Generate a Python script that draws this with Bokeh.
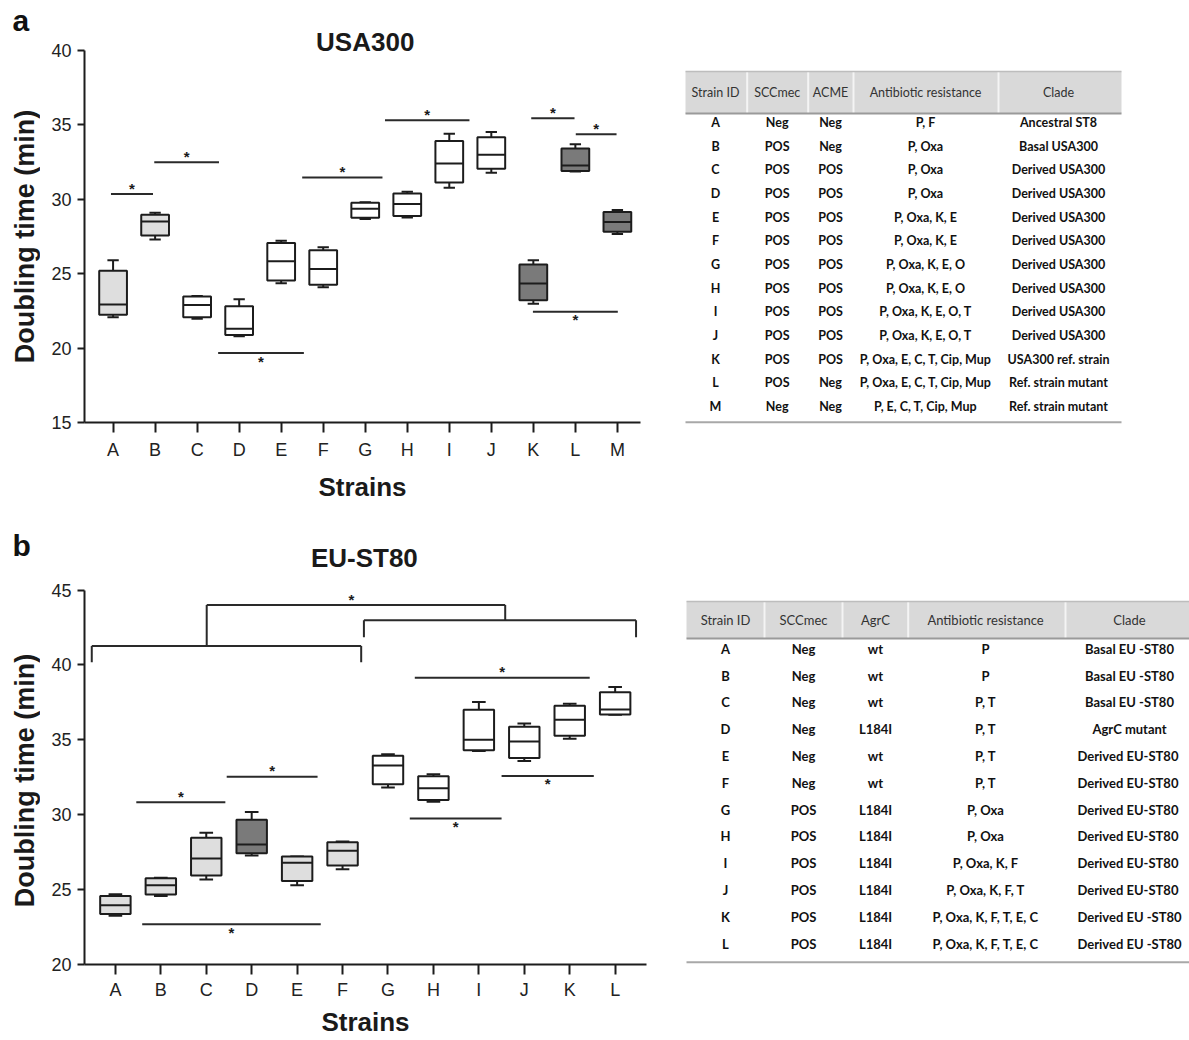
import math
from bokeh.plotting import figure
from bokeh.layouts import row, column
from bokeh.models import Range1d, FixedTicker
from bokeh.embed import file_html
from bokeh.resources import INLINE
from bokeh.core.properties import value

# ---------------- Panel a : USA300 ----------------
strains_a = ["A", "B", "C", "D", "E", "F", "G", "H", "I", "J", "K", "L", "M"]
a_min = [22.08, 27.29, 21.97, 20.79, 24.36, 24.09, 28.67, 28.78, 30.77, 31.78, 22.98, 31.87, 27.67]
a_q1 = [22.24, 27.56, 22.08, 20.88, 24.54, 24.25, 28.76, 28.87, 31.13, 32.05, 23.22, 31.91, 27.82]
a_med = [22.93, 28.50, 22.90, 21.30, 25.84, 25.32, 29.37, 29.68, 32.40, 33.00, 24.34, 32.27, 28.47]
a_q3 = [25.20, 28.96, 23.47, 22.82, 27.06, 26.57, 29.77, 30.39, 33.92, 34.17, 25.61, 33.41, 29.14]
a_max = [25.90, 29.10, 23.50, 23.29, 27.22, 26.77, 29.81, 30.50, 34.41, 34.53, 25.90, 33.70, 29.28]
a_group = ["light", "light", "white", "white", "white", "white", "white", "white", "white", "white",
           "dark", "dark", "dark"]
a_yticks = [15, 20, 25, 30, 35, 40]

# significance bars (from-strain index, to-strain index, level, star side)
sig_a_x0 = [-0.05, 0.98, 2.50, 4.50, 6.47, 9.95, 11.01, 9.99]
sig_a_x1 = [0.95, 2.52, 4.54, 6.41, 8.48, 10.98, 11.98, 12.01]
sig_a_y = [30.35, 32.49, 19.67, 31.47, 35.31, 35.44, 34.37, 22.44]
sig_a_side = ["above", "above", "below", "above", "above", "above", "above", "below"]

# ---------------- Panel b : EU-ST80 ----------------
strains_b = ["A", "B", "C", "D", "E", "F", "G", "H", "I", "J", "K", "L"]
b_min = [23.26, 24.58, 25.67, 27.28, 25.29, 26.36, 31.81, 30.87, 34.26, 33.59, 35.07, 36.67]
b_q1 = [23.37, 24.67, 25.94, 27.43, 25.58, 26.61, 32.03, 30.98, 34.31, 33.79, 35.27, 36.70]
b_med = [23.95, 25.29, 27.08, 28.01, 26.79, 27.59, 33.28, 31.76, 35.00, 34.89, 36.34, 37.03]
b_q3 = [24.58, 25.76, 28.46, 29.67, 27.21, 28.17, 33.93, 32.57, 37.01, 35.87, 37.28, 38.17]
b_max = [24.69, 25.80, 28.79, 30.18, 27.21, 28.21, 34.04, 32.70, 37.52, 36.09, 37.41, 38.53]
b_group = ["light", "light", "light", "dark", "light", "light", "white", "white", "white", "white",
           "white", "white"]
b_yticks = [20, 25, 30, 35, 40, 45]

sig_b_x0 = [0.46, 2.45, 0.59, 6.59, 8.50, 6.48]
sig_b_x1 = [2.42, 4.45, 4.52, 10.44, 10.53, 8.50]
sig_b_y = [30.83, 32.54, 22.68, 39.15, 32.59, 29.75]
sig_b_side = ["above", "above", "below", "above", "below", "below"]

# group brackets: (left x, right x, bar level, leg end left, leg end right)
br_x0 = [-0.52, 5.47, 2.01]
br_x1 = [5.41, 11.46, 8.58]
br_y = [41.27, 42.99, 44.00]
br_leg0 = [40.18, 41.85, 41.27]
br_leg1 = [40.18, 41.85, 42.99]
br_star = [False, False, True]

# ---------------- Tables ----------------
tab_a_header = ["Strain ID", "SCCmec", "ACME", "Antibiotic resistance", "Clade"]
tab_a_scc = ["Neg", "POS", "POS", "POS", "POS", "POS", "POS", "POS", "POS", "POS", "POS", "POS", "Neg"]
tab_a_acme = ["Neg", "Neg", "POS", "POS", "POS", "POS", "POS", "POS", "POS", "POS", "POS", "Neg", "Neg"]
tab_a_abx = ["P, F", "P, Oxa", "P, Oxa", "P, Oxa", "P, Oxa, K, E", "P, Oxa, K, E", "P, Oxa, K, E, O",
             "P, Oxa, K, E, O", "P, Oxa, K, E, O, T", "P, Oxa, K, E, O, T", "P, Oxa, E, C, T, Cip, Mup",
             "P, Oxa, E, C, T, Cip, Mup", "P, E, C, T, Cip, Mup"]
tab_a_clade = ["Ancestral ST8", "Basal USA300", "Derived USA300", "Derived USA300", "Derived USA300",
               "Derived USA300", "Derived USA300", "Derived USA300", "Derived USA300", "Derived USA300",
               "USA300 ref. strain", "Ref. strain mutant", "Ref. strain mutant"]

tab_b_header = ["Strain ID", "SCCmec", "AgrC", "Antibiotic resistance", "Clade"]
tab_b_scc = ["Neg", "Neg", "Neg", "Neg", "Neg", "Neg", "POS", "POS", "POS", "POS", "POS", "POS"]
tab_b_agrc = ["wt", "wt", "wt", "L184I", "wt", "wt", "L184I", "L184I", "L184I", "L184I", "L184I", "L184I"]
tab_b_abx = ["P", "P", "P, T", "P, T", "P, T", "P, T", "P, Oxa", "P, Oxa", "P, Oxa, K, F", "P, Oxa, K, F, T",
             "P, Oxa, K, F, T, E, C", "P, Oxa, K, F, T, E, C"]
tab_b_clade = ["Basal EU -ST80", "Basal EU -ST80", "Basal EU -ST80", "AgrC mutant", "Derived  EU-ST80",
               "Derived  EU-ST80", "Derived  EU-ST80", "Derived  EU-ST80", "Derived  EU-ST80",
               "Derived  EU-ST80", "Derived EU -ST80", "Derived EU -ST80"]

FILLS = {"light": "#dedede", "white": "#ffffff", "dark": "#7a7a7a"}
INK = "#1c1c1c"
FONT = "Liberation Sans"


def side_fig(letter, letter_y, ylabel, ylabel_y):
    """Narrow strip left of a panel holding the panel letter and the y-axis title."""
    s = figure(width=40, height=520, x_range=Range1d(0, 40), y_range=Range1d(0, 520),
               output_backend="svg", toolbar_location=None, x_axis_type=None, y_axis_type=None,
               min_border=0, frame_align=False)
    s.grid.visible = False
    s.outline_line_color = None
    s.text(x=[12], y=[520 - letter_y], text=[letter], text_align="left", text_baseline="middle",
           text_font=value(FONT), text_font_style="bold", text_font_size="30px", text_color="#111111")
    s.text(x=[24], y=[520 - ylabel_y], text=[ylabel], angle=math.pi / 2, text_align="center",
           text_baseline="middle", text_font=value(FONT), text_font_style="bold",
           text_font_size="27px", text_color="#1a1a1a")
    return s


def box_panel(cats, mins, q1, med, q3, maxs, groups, yticks, xr, yr, ybounds, border_bottom,
              border_right, box_w, cap_w, lab_standoff, axlab_standoff):
    p = figure(width=620, height=520, x_range=Range1d(*xr), y_range=Range1d(*yr),
               output_backend="svg", toolbar_location=None,
               min_border_left=44, min_border_right=border_right,
               min_border_top=0, min_border_bottom=border_bottom, frame_align=False)
    p.grid.visible = False
    p.outline_line_color = None
    idx = list(range(len(cats)))
    fills = [FILLS[g] for g in groups]
    # whiskers
    p.segment(x0=idx, y0=q3, x1=idx, y1=maxs, line_color=INK, line_width=2)
    p.segment(x0=idx, y0=q1, x1=idx, y1=mins, line_color=INK, line_width=2)
    p.segment(x0=[i - cap_w / 2 for i in idx], y0=maxs, x1=[i + cap_w / 2 for i in idx], y1=maxs,
              line_color=INK, line_width=2)
    p.segment(x0=[i - cap_w / 2 for i in idx], y0=mins, x1=[i + cap_w / 2 for i in idx], y1=mins,
              line_color=INK, line_width=2)
    # boxes
    p.vbar(x=idx, width=box_w, bottom=q1, top=q3, fill_color=fills, line_color=INK, line_width=2)
    p.segment(x0=[i - box_w / 2 for i in idx], y0=med, x1=[i + box_w / 2 for i in idx], y1=med,
              line_color=INK, line_width=2)

    for ax in (p.xaxis[0], p.yaxis[0]):
        ax.axis_line_width = 2
        ax.axis_line_color = INK
        ax.major_tick_line_width = 2
        ax.major_tick_line_color = INK
        ax.minor_tick_line_color = None
        ax.major_tick_in = 0
        ax.major_label_text_font = FONT
        ax.major_label_text_font_size = "18px"
        ax.major_label_text_color = "#222222"
        ax.axis_label_text_font = FONT
        ax.axis_label_text_font_style = "bold"
        ax.axis_label_text_font_size = "26px"
        ax.axis_label_text_color = "#1a1a1a"
    p.xaxis.ticker = FixedTicker(ticks=idx)
    p.xaxis.major_label_overrides = {i: c for i, c in enumerate(cats)}
    p.xaxis.major_tick_out = 10
    p.xaxis.major_label_standoff = lab_standoff
    p.xaxis.axis_label = "Strains"
    p.xaxis.axis_label_standoff = axlab_standoff
    p.yaxis.ticker = FixedTicker(ticks=yticks)
    p.yaxis.bounds = ybounds
    p.yaxis.major_tick_out = 7
    p.yaxis.major_label_standoff = 6
    return p


STAR = dict(text_align="center", text_baseline="middle", text_font=value(FONT), text_font_style="bold",
            text_font_size="15px", text_color="#1a1a1a")


def add_sig(p, x0, x1, y, side):
    p.segment(x0=x0, y0=y, x1=x1, y1=y, line_color="#2a2a2a", line_width=2)
    up = [i for i, s in enumerate(side) if s == "above"]
    dn = [i for i, s in enumerate(side) if s == "below"]
    for sel, off in ((up, -6), (dn, 8)):
        p.text(x=[(x0[i] + x1[i]) / 2 for i in sel], y=[y[i] for i in sel], text=["*"] * len(sel),
               y_offset=off, **STAR)


def add_title(p, x, y, text):
    p.text(x=[x], y=[y], text=[text], text_align="center", text_baseline="middle",
           text_font=value(FONT), text_font_style="bold", text_font_size="26px", text_color="#1a1a1a")


# panel a
sa = side_fig("a", 20, "Doubling time (min)", 236)
pa = box_panel(strains_a, a_min, a_q1, a_med, a_q3, a_max, a_group, a_yticks,
               (-0.68, 12.55), (15, 43.36), (15, 40), 98, 20, 0.66, 0.27, 7, 9)
add_sig(pa, sig_a_x0, sig_a_x1, sig_a_y, sig_a_side)
add_title(pa, 6.0, 40.6, "USA300")

# panel b
sb = side_fig("b", 25, "Doubling time (min)", 260)
pb = box_panel(strains_b, b_min, b_q1, b_med, b_q3, b_max, b_group, b_yticks,
               (-0.68, 11.69), (20, 49.646), (20, 45), 76, 14, 0.67, 0.30, 5, 4)
add_sig(pb, sig_b_x0, sig_b_x1, sig_b_y, sig_b_side)
pb.segment(x0=br_x0, y0=br_y, x1=br_x1, y1=br_y, line_color="#2a2a2a", line_width=2)
pb.segment(x0=br_x0, y0=br_y, x1=br_x0, y1=br_leg0, line_color="#2a2a2a", line_width=2)
pb.segment(x0=br_x1, y0=br_y, x1=br_x1, y1=br_leg1, line_color="#2a2a2a", line_width=2)
sel = [i for i, s in enumerate(br_star) if s]
pb.text(x=[(br_x0[i] + br_x1[i]) / 2 - 0.1 for i in sel], y=[br_y[i] for i in sel], text=["*"] * len(sel),
        y_offset=-6, **STAR)
add_title(pb, 5.48, 47.11, "EU-ST80")


def table_fig(header, cols, ids, left, right, head_top, head_bot, col_x, seps, row0, row_dy, bottom_line,
              font_size):
    t = figure(width=529, height=520, x_range=Range1d(0, 529), y_range=Range1d(520, 0),
               output_backend="svg", toolbar_location=None, x_axis_type=None, y_axis_type=None,
               min_border=0, frame_align=False)
    t.grid.visible = False
    t.outline_line_color = None
    t.quad(left=[left], right=[right], top=[head_top], bottom=[head_bot], fill_color="#d9d9d9",
           line_color=None)
    t.segment(x0=seps, y0=[head_top] * len(seps), x1=seps, y1=[head_bot] * len(seps),
              line_color="#f4f4f4", line_width=2)
    t.segment(x0=[left], y0=[head_top], x1=[right], y1=[head_top], line_color="#bdbdbd", line_width=1.5)
    t.segment(x0=[left], y0=[head_bot], x1=[right], y1=[head_bot], line_color="#9a9a9a", line_width=2)
    t.segment(x0=[left], y0=[bottom_line], x1=[right], y1=[bottom_line], line_color="#a8a8a8", line_width=2)
    t.text(x=col_x, y=[(head_top + head_bot) / 2] * len(header), text=header, text_align="center",
           text_baseline="middle", text_font=value("Lato"), text_font_size=font_size, text_color="#333333")
    ys = [row0 + i * row_dy for i in range(len(ids))]
    all_cols = [ids] + cols
    for cx, vals in zip(col_x, all_cols):
        t.text(x=[cx] * len(vals), y=ys, text=vals, text_align="center", text_baseline="middle",
               text_font=value("Lato"), text_font_style="bold", text_font_size=font_size,
               text_color="#111111")
    return t


ta = table_fig(tab_a_header, [tab_a_scc, tab_a_acme, tab_a_abx, tab_a_clade], strains_a,
               25, 461, 71, 113, [55, 116.7, 170, 265, 398], [86.7, 147.7, 193, 338],
               122, 23.67, 421.7, "12.5px")
tb = table_fig(tab_b_header, [tab_b_scc, tab_b_agrc, tab_b_abx, tab_b_clade], strains_b,
               26, 529, 81, 118, [65, 143, 215, 325, 469], [104, 182, 247.7, 405],
               128.3, 26.8, 441.7, "13px")

layout = column(row(sa, pa, ta, spacing=0), row(sb, pb, tb, spacing=0), spacing=0)
open("out.html", "w").write(file_html(layout, INLINE))
